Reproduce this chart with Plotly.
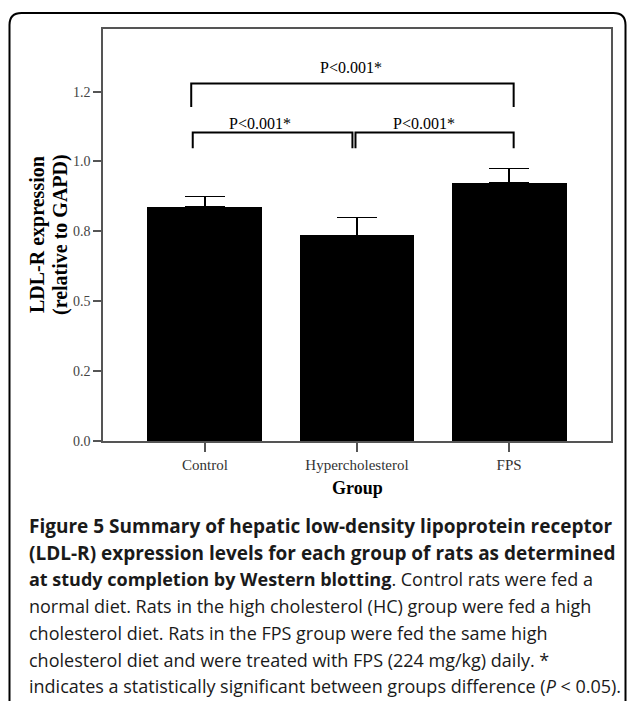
import plotly.graph_objects as go

# ---- data ----
groups = ["Control", "Hypercholesterol", "FPS"]
means = [0.837, 0.736, 0.924]
err_up = [0.038, 0.063, 0.051]
ytick_vals = [0.0, 0.25, 0.5, 0.75, 1.0, 1.25]
ytick_text = ["0.0", "0.2", "0.5", "0.8", "1.0", "1.2"]
# significance brackets: (x start, x end, y top, y leg bottom, label x, label y, label)
brackets = [
    (-0.09, 2.03, 1.279, 1.195, 0.96, 1.338, "P&lt;0.001*"),
    (-0.08, 0.97, 1.104, 1.047, 0.36, 1.136, "P&lt;0.001*"),
    (0.99, 2.03, 1.104, 1.047, 1.44, 1.136, "P&lt;0.001*"),
]
caption_lines = [
    "<b>Figure 5 Summary of hepatic low-density lipoprotein receptor</b>",
    "<b>(LDL-R) expression levels for each group of rats as determined</b>",
    "<b>at study completion by Western blotting</b>. Control rats were fed a",
    "normal diet. Rats in the high cholesterol (HC) group were fed a high",
    "cholesterol diet. Rats in the FPS group were fed the same high",
    "cholesterol diet and were treated with FPS (224 mg/kg) daily. *",
    "indicates a statistically significant between groups difference (<i>P</i> &lt; 0.05).",
]

W, H = 629, 701
ML, MR, MT, MB = 103, 18, 29, 260
PW, PH = W - ML - MR, H - MT - MB

def px(x):
    return (x - ML) / PW

def py(y):
    return (H - MB - y) / PH

serif = "Liberation Serif, Times New Roman, serif"
sans = "Open Sans, Noto Sans, sans-serif"

fig = go.Figure()
fig.add_trace(go.Bar(
    x=groups, y=means, width=0.755,
    marker=dict(color="black", line=dict(width=0)),
    error_y=dict(type="data", symmetric=False, array=err_up,
                 arrayminus=[0] * len(groups), color="black",
                 thickness=1.5, width=20),
    showlegend=False, hoverinfo="skip",
))

shapes = []
annotations = []
for x0, x1, ytop, ybot, lx, ly, lab in brackets:
    shapes.append(dict(type="path", xref="x", yref="y",
                       path=f"M {x0},{ybot} L {x0},{ytop} L {x1},{ytop} L {x1},{ybot}",
                       line=dict(color="black", width=2)))
    annotations.append(dict(x=lx, y=ly, xref="x", yref="y", text=lab,
                            showarrow=False, font=dict(family=serif, size=16, color="black"),
                            xanchor="center", yanchor="middle"))

# outer rounded frame (extends past bottom/right of the image)
L, T, R, B, r = 9.5, 13, 625.5, 710, 12
path = (f"M {px(L)},{py(B)} L {px(L)},{py(T + r)} "
        f"Q {px(L)},{py(T)} {px(L + r)},{py(T)} "
        f"L {px(R - r)},{py(T)} Q {px(R)},{py(T)} {px(R)},{py(T + r)} "
        f"L {px(R)},{py(B)}")
shapes.append(dict(type="path", xref="paper", yref="paper", path=path,
                   line=dict(color="black", width=2)))

# axis titles
annotations.append(dict(x=px(37), y=py(235), xref="paper", yref="paper",
                        text="<b>LDL-R expression</b>", textangle=-90, showarrow=False,
                        font=dict(family=serif, size=20, color="black"),
                        xanchor="center", yanchor="middle"))
annotations.append(dict(x=px(60), y=py(235), xref="paper", yref="paper",
                        text="<b>(relative to GAPD)</b>", textangle=-90, showarrow=False,
                        font=dict(family=serif, size=20, color="black"),
                        xanchor="center", yanchor="middle"))
annotations.append(dict(x=px(357), y=py(488), xref="paper", yref="paper",
                        text="<b>Group</b>", showarrow=False,
                        font=dict(family=serif, size=18, color="black"),
                        xanchor="center", yanchor="middle"))

# caption
for i, line in enumerate(caption_lines):
    size = 19 if i < 2 else 18
    annotations.append(dict(x=px(27), y=py(526 + 26.7 * i), xref="paper", yref="paper",
                            text=line, showarrow=False, align="left",
                            font=dict(family=sans, size=size, color="#1a1a1a"),
                            xanchor="left", yanchor="middle"))

fig.update_layout(
    width=W, height=H,
    margin=dict(l=ML, r=MR, t=MT, b=MB, pad=0),
    paper_bgcolor="white", plot_bgcolor="white",
    bargap=0,
    xaxis=dict(type="category", range=[-0.67, 2.67], showgrid=False, zeroline=False,
               showline=True, linecolor="#555555", linewidth=1.5, mirror=True,
               ticks="outside", ticklen=9, tickcolor="#555555", tickwidth=1.5,
               tickfont=dict(family=serif, size=15, color="#333333")),
    yaxis=dict(range=[0, 1.474], showgrid=False, zeroline=False,
               tickvals=ytick_vals, ticktext=ytick_text,
               showline=True, linecolor="#555555", linewidth=1.5, mirror=True,
               ticks="outside", ticklen=8, tickcolor="#555555", tickwidth=1.5,
               tickfont=dict(family=serif, size=14, color="#444444")),
    shapes=shapes,
    annotations=annotations,
)

fig.write_html("out.html")
